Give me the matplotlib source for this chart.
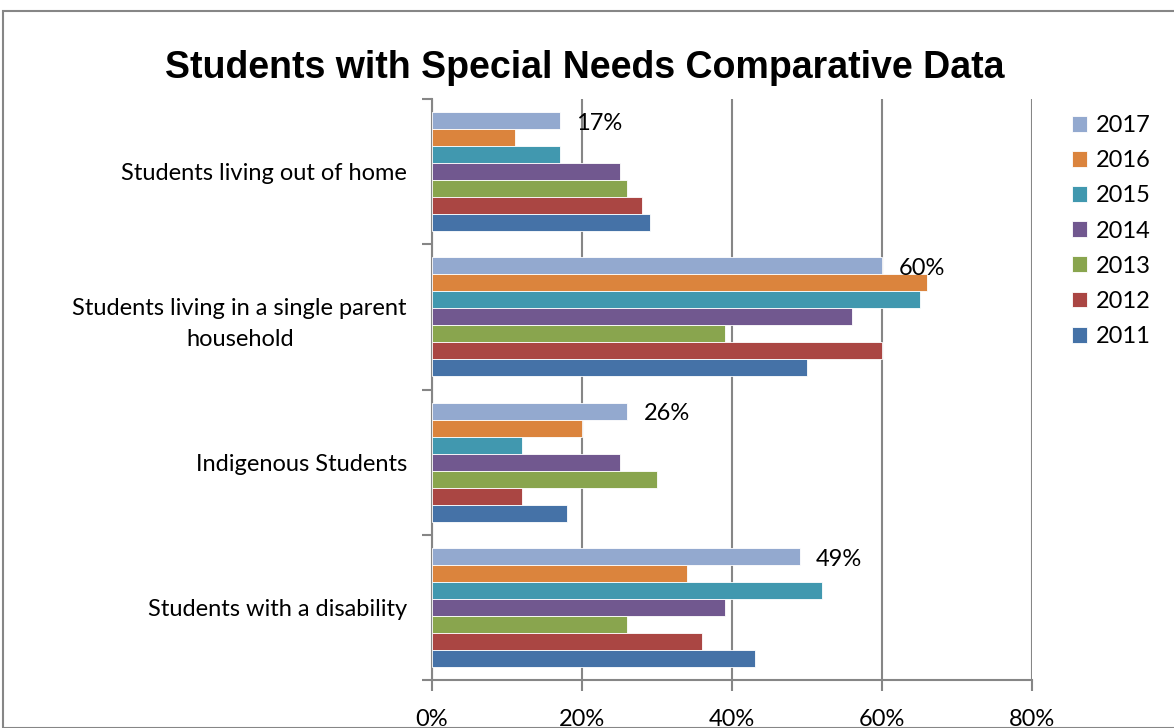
import numpy as np
import matplotlib
matplotlib.use("Agg")
from matplotlib import pyplot as plt
from matplotlib.patches import Rectangle

# categories top to bottom
categories = ["Students living out of home",
              "Students living in a single parent\nhousehold",
              "Indigenous Students",
              "Students with a disability"]

years = ["2017", "2016", "2015", "2014", "2013", "2012", "2011"]
colors = ["#93A9CF", "#DB843D", "#4198AF", "#71588F", "#89A54E", "#AA4643", "#4572A7"]

# values in percent, per year, in category order
v2017 = [17, 60, 26, 49]
v2016 = [11, 66, 20, 34]
v2015 = [17, 65, 12, 52]
v2014 = [25, 56, 25, 39]
v2013 = [26, 39, 30, 26]
v2012 = [28, 60, 12, 36]
v2011 = [29, 50, 18, 43]
series = [v2017, v2016, v2015, v2014, v2013, v2012, v2011]

xticks = [0, 20, 40, 60, 80]
FS = 17

fig = plt.figure(figsize=(11.74, 7.28), dpi=100)
ax = fig.add_axes([432/1174, 48/728, 600/1174, 581/728])

n = len(years)
h = 0.82 / n
y = np.arange(len(categories))
for j, (yr, vals, c) in enumerate(zip(years, series, colors)):
    ax.barh(y + (j - (n - 1) / 2) * h, vals, height=h, color=c,
            edgecolor="white", linewidth=0.6, label=yr, zorder=3)

# data labels only for latest year
for i, v in enumerate(v2017):
    ax.text(v + 2.2, y[i] + (0 - (n - 1) / 2) * h + 0.02, "%d%%" % v,
            va="center", ha="left", fontsize=FS, family="Lato", zorder=4)

ax.set_xlim(0, 80)
ax.set_ylim(len(categories) - 0.5, -0.5)
ax.set_xticks(xticks)
ax.set_xticklabels(["%d%%" % t for t in xticks], fontsize=FS, family="Lato")
ax.xaxis.grid(True, color="#868686", linewidth=1.5, zorder=0)
ax.tick_params(axis="x", direction="out", length=8, width=1.5, color="#868686", pad=13)

ax.set_yticks(y)
ax.set_yticklabels(categories, fontsize=FS, family="Lato", multialignment="center",
                   linespacing=1.6)
ax.tick_params(axis="y", which="major", length=0, pad=18)
ax.set_yticks(np.arange(len(categories) + 1) - 0.5, minor=True)
ax.tick_params(axis="y", which="minor", direction="out", length=7, width=1.5, color="#868686")

for s in ["top", "right"]:
    ax.spines[s].set_visible(False)
for s in ["left", "bottom"]:
    ax.spines[s].set_color("#868686")
    ax.spines[s].set_linewidth(1.5)

fig.text(585/1174, 1 - 68/728, "Students with Special Needs Comparative Data",
         ha="center", va="center", fontsize=27, fontweight="bold", family="Liberation Sans")

leg = fig.legend(loc="upper left", bbox_to_anchor=(1072/1174, 1 - 115/728),
                 frameon=False, prop={"family": "Lato", "size": FS},
                 borderaxespad=0, borderpad=0,
                 handlelength=0.65, handleheight=0.65, handletextpad=0.35, labelspacing=0.6)

fig.patches.append(Rectangle((3/1174, 0), 1.2, 1 - 11/728, transform=fig.transFigure,
                             fill=False, edgecolor="#868686", linewidth=1.5))

fig.savefig("out.png", dpi=100)
